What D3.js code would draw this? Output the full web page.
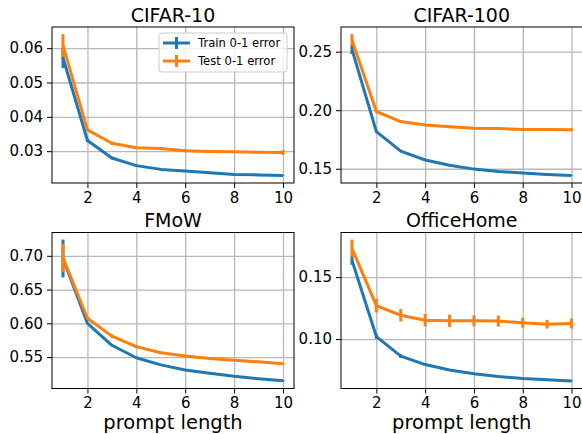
<!DOCTYPE html>
<html><head><meta charset="utf-8">
<script src="https://cdn.jsdelivr.net/npm/d3@7"></script>
<style>
body{margin:0;background:#fff;}
svg{display:block;font-family:"DejaVu Sans",sans-serif;}
</style></head>
<body><div id="chart"></div>
<script>
const promptLength = [1,2,3,4,5,6,7,8,9,10];
const xTicks = [2,4,6,8,10];
const seriesNames = ["Train 0-1 error","Test 0-1 error"];
const panelTitles = ["CIFAR-10","CIFAR-100","FMoW","OfficeHome"];

const cifar10Train    = [0.0572,0.0331,0.0280,0.0258,0.0247,0.0242,0.0237,0.0232,0.0231,0.0229];
const cifar10TrainErr = [0.0030,0.0004,0.0004,0.0002,0.0002,0.0001,0.0001,0.0001,0.0001,0.0001];
const cifar10Test     = [0.0608,0.0362,0.0323,0.0310,0.0308,0.0301,0.0299,0.0298,0.0297,0.0296];
const cifar10TestErr  = [0.0033,0.0003,0.0005,0.0003,0.0003,0.0004,0.0002,0.0002,0.0002,0.0007];
const cifar10YTicks   = [0.03,0.04,0.05,0.06];

const cifar100Train    = [0.252,0.1817,0.165,0.1575,0.153,0.1497,0.1477,0.1463,0.1452,0.1442];
const cifar100TrainErr = [0.004,0.001,0.0005,0.0004,0.0003,0.0003,0.0003,0.0003,0.0003,0.0003];
const cifar100Test     = [0.2600,0.1989,0.1903,0.1874,0.1858,0.1845,0.1843,0.1836,0.1835,0.1833];
const cifar100TestErr  = [0.005,0.001,0.001,0.0008,0.0012,0.0008,0.0012,0.0008,0.0010,0.0012];
const cifar100YTicks   = [0.15,0.20,0.25];

const fmowTrain    = [0.696,0.600,0.5675,0.549,0.5385,0.531,0.526,0.5215,0.518,0.515];
const fmowTrainErr = [0.028,0.001,0.001,0.001,0.001,0.001,0.001,0.001,0.001,0.001];
const fmowTest     = [0.697,0.6075,0.581,0.5655,0.5565,0.5515,0.548,0.5455,0.543,0.540];
const fmowTestErr  = [0.021,0.0015,0.0025,0.0025,0.0015,0.002,0.0012,0.0012,0.0012,0.001];
const fmowYTicks   = [0.55,0.60,0.65,0.70];

const officeTrain    = [0.1635,0.102,0.0862,0.0794,0.0750,0.0720,0.0698,0.0682,0.0671,0.0662];
const officeTrainErr = [0.0035,0.0018,0.0015,0.0008,0.0005,0.0005,0.0005,0.0004,0.0004,0.0004];
const officeTest     = [0.1733,0.1270,0.1192,0.1152,0.1147,0.1147,0.1145,0.1131,0.1120,0.1126];
const officeTestErr  = [0.0070,0.0055,0.0050,0.0050,0.0050,0.0045,0.0045,0.0040,0.0035,0.0040];
const officeYTicks   = [0.10,0.15];

const panels = [
  {title:panelTitles[0], train:cifar10Train, trainErr:cifar10TrainErr, test:cifar10Test, testErr:cifar10TestErr, yTicks:cifar10YTicks, fmt:".2f"},
  {title:panelTitles[1], train:cifar100Train, trainErr:cifar100TrainErr, test:cifar100Test, testErr:cifar100TestErr, yTicks:cifar100YTicks, fmt:".2f"},
  {title:panelTitles[2], train:fmowTrain, trainErr:fmowTrainErr, test:fmowTest, testErr:fmowTestErr, yTicks:fmowYTicks, fmt:".2f"},
  {title:panelTitles[3], train:officeTrain, trainErr:officeTrainErr, test:officeTest, testErr:officeTestErr, yTicks:officeYTicks, fmt:".2f"}
];

const W = 582, H = 434;
const colors = ["#1f77b4","#ff7f0e"];
const gridColor = "#b8b8b8";
const boxes = [
  {l:52, r:294, t:27, b:183},
  {l:341, r:582.5, t:27, b:183},
  {l:52, r:294, t:232.5, b:388.5},
  {l:341, r:582.5, t:232.5, b:388.5}
];

const svg = d3.select("#chart").append("svg").attr("width",W).attr("height",H);

panels.forEach((p,i)=>{
  const bx = boxes[i];
  const g = svg.append("g");
  const x = d3.scaleLinear().domain([0.55,10.45]).range([bx.l,bx.r]);
  const lo = d3.min(p.train.map((v,k)=>v-p.trainErr[k]).concat(p.test.map((v,k)=>v-p.testErr[k])));
  const hi = d3.max(p.train.map((v,k)=>v+p.trainErr[k]).concat(p.test.map((v,k)=>v+p.testErr[k])));
  const pad = (hi-lo)*0.05;
  const y = d3.scaleLinear().domain([lo-pad,hi+pad]).range([bx.b,bx.t]);

  // grid as axis ticks spanning the plot
  const gx = g.append("g").attr("transform",`translate(0,${bx.b})`)
    .call(d3.axisBottom(x).tickValues(xTicks).tickSize(-(bx.b-bx.t)).tickFormat(""));
  const gy = g.append("g").attr("transform",`translate(${bx.l},0)`)
    .call(d3.axisLeft(y).tickValues(p.yTicks).tickSize(-(bx.r-bx.l)).tickFormat(""));
  [gx,gy].forEach(a=>{
    a.select(".domain").remove();
    a.selectAll(".tick line").attr("stroke",gridColor).attr("stroke-width",1.3);
  });

  // axes
  const xa = g.append("g").attr("transform",`translate(0,${bx.b})`)
    .call(d3.axisBottom(x).tickValues(xTicks).tickSize(5).tickPadding(4).tickFormat(d3.format("d")));
  const ya = g.append("g").attr("transform",`translate(${bx.l},0)`)
    .call(d3.axisLeft(y).tickValues(p.yTicks).tickSize(5).tickPadding(4).tickFormat(d3.format(p.fmt)));
  [xa,ya].forEach(a=>{
    a.select(".domain").remove();
    a.selectAll("text").attr("font-size",15).attr("fill","#000").attr("font-family","DejaVu Sans");
    a.selectAll("line").attr("stroke","#000").attr("stroke-width",1);
  });

  const line = d3.line().x((d,k)=>x(promptLength[k])).y(d=>y(d));
  const series = [{v:p.train,e:p.trainErr,c:colors[0]},{v:p.test,e:p.testErr,c:colors[1]}];
  series.forEach(s=>{
    g.append("path").datum(s.v).attr("d",line).attr("fill","none")
      .attr("stroke",s.c).attr("stroke-width",3).attr("stroke-linejoin","round");
    const eg = g.append("g");
    s.v.forEach((d,k)=>{
      eg.append("line").attr("x1",x(promptLength[k])).attr("x2",x(promptLength[k]))
        .attr("y1",y(d - s.e[k])).attr("y2",y(d + s.e[k]))
        .attr("stroke",s.c).attr("stroke-width",3);
    });
  });

  // frame
  g.append("rect").attr("x",bx.l).attr("y",bx.t).attr("width",bx.r-bx.l).attr("height",bx.b-bx.t)
    .attr("fill","none").attr("stroke","#000").attr("stroke-width",1);

  g.append("text").attr("x",(bx.l+bx.r)/2).attr("y",bx.t-5.5).attr("text-anchor","middle")
    .attr("font-size",19).text(p.title);
  if(i>=2){
    g.append("text").attr("x",(bx.l+bx.r)/2).attr("y",428.5).attr("text-anchor","middle")
      .attr("font-size",19.5).text("prompt length");
  }
});

// legend in first panel
const lg = svg.append("g");
lg.append("rect").attr("x",159).attr("y",33).attr("width",128).attr("height",39).attr("rx",3)
  .attr("fill","#fff").attr("fill-opacity",0.8).attr("stroke","#cccccc").attr("stroke-width",1);
seriesNames.forEach((n,k)=>{
  const cy = 43 + k*18;
  lg.append("line").attr("x1",163).attr("x2",190).attr("y1",cy).attr("y2",cy)
    .attr("stroke",colors[k]).attr("stroke-width",3);
  lg.append("line").attr("x1",176.5).attr("x2",176.5).attr("y1",cy-6).attr("y2",cy+6)
    .attr("stroke",colors[k]).attr("stroke-width",3);
  lg.append("text").attr("x",198).attr("y",cy+4.2).attr("font-size",11.6).text(n);
});
</script>
</body></html>
